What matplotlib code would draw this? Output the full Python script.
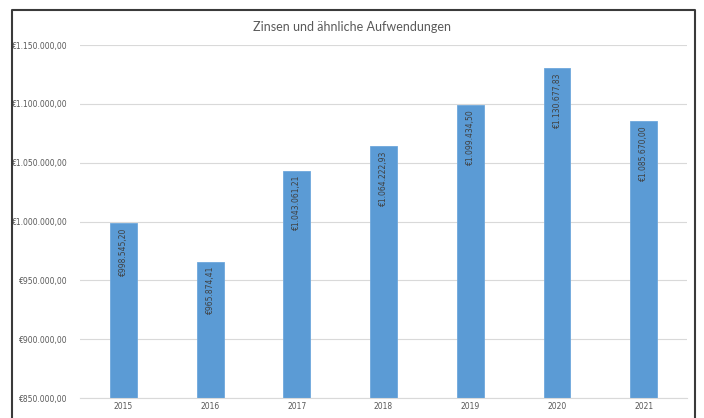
import matplotlib.pyplot as plt
from matplotlib.lines import Line2D
from matplotlib.ticker import FuncFormatter

years = ['2015', '2016', '2017', '2018', '2019', '2020', '2021']
values = [998545.20, 965874.41, 1043061.21, 1064222.93, 1099434.50, 1130677.83, 1085670.00]
labels = ['€998.545,20', '€965.874,41', '€1.043.061,21', '€1.064.222,93',
          '€1.099.434,50', '€1.130.677,83', '€1.085.670,00']


def euro(v, pos=None):
    s = f"{v:,.2f}"
    s = s.replace(',', 'X').replace('.', ',').replace('X', '.')
    return '€' + s


fig = plt.figure(figsize=(7.04, 4.18), dpi=100)
ax = fig.add_axes([0.1136, 0.0478, 0.976 - 0.1136, 0.892 - 0.0478])

x = range(len(years))
ax.bar(x, values, width=0.31, color='#5B9BD5', edgecolor='#6FA8DC', linewidth=0.6, zorder=2)
for xi, v, lab in zip(x, values, labels):
    ax.annotate(lab, (xi, v), xytext=(0, -3), textcoords='offset points',
                rotation=90, ha='center', va='top', fontsize=5.5, color='#404040')

ax.set_ylim(850000, 1150000)
ax.set_xlim(-0.5, len(years) - 0.5)
ax.set_yticks(range(850000, 1150001, 50000))
ax.yaxis.set_major_formatter(FuncFormatter(euro))
ax.set_xticks(list(x))
ax.set_xticklabels(years)
ax.tick_params(axis='both', length=0, labelsize=5.5, labelcolor='#595959')
ax.tick_params(axis='y', pad=9)
ax.tick_params(axis='x', pad=3)
ax.grid(axis='y', color='#D9D9D9', linewidth=0.8, zorder=0)
for s in ax.spines.values():
    s.set_visible(False)
ax.spines['bottom'].set_visible(True)
ax.spines['bottom'].set_color('#D9D9D9')

fig.text(0.5, 1 - 27 / 418, 'Zinsen und ähnliche Aufwendungen', ha='center', va='center',
         fontsize=9, color='#595959', family='Lato')

# outer chart frame
fx0, fx1, fy1 = 12 / 704, 695 / 704, 1 - 10 / 418
fig.add_artist(Line2D([fx0, fx0, fx1, fx1], [0, fy1, fy1, 0], transform=fig.transFigure,
                      color='#3A3A3A', linewidth=1.5))

fig.savefig('out.png', dpi=100)
